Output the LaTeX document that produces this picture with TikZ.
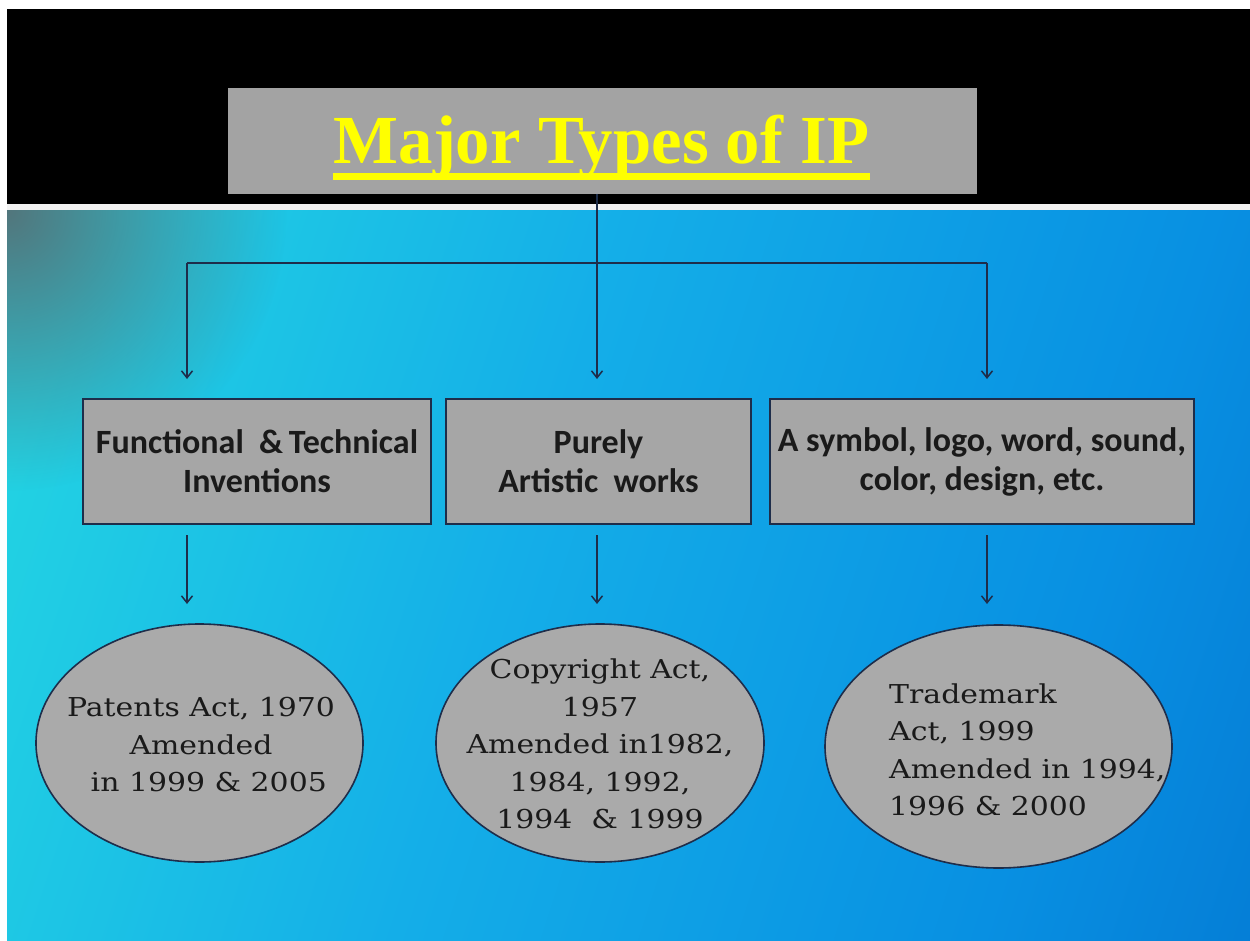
\documentclass[tikz,border=0pt]{standalone}
\usepackage{fontspec}
\usetikzlibrary{arrows.meta,shapes.geometric,fadings,calc}
\newfontfamily\boxfont{Carlito}
\newfontfamily\ellfont{DejaVu Serif}[FakeStretch=1.15]
\newfontfamily\ttlfont{Liberation Serif}
\definecolor{navy}{HTML}{1E2D4A}
\definecolor{boxgray}{HTML}{A6A6A6}
\definecolor{ellgray}{HTML}{AAAAAA}
\definecolor{ttlgray}{HTML}{A3A3A3}
\definecolor{ttlyellow}{HTML}{FFFF00}
\definecolor{txt}{HTML}{1A1A1A}
\definecolor{cornercol}{HTML}{52767C}
\definecolor{sA}{HTML}{26DAE2}
\definecolor{sB}{HTML}{22D2E3}
\definecolor{sC}{HTML}{14AEE8}
\definecolor{sD}{HTML}{0890E2}
\definecolor{sE}{HTML}{0062C4}
\pgfdeclarehorizontalshading{bgshade}{100bp}{color(0bp)=(sA); color(22bp)=(sB); color(45bp)=(sC); color(70bp)=(sD); color(100bp)=(sE)}
\tikzfading[name=cornerfade, inner color=transparent!0, outer color=transparent!100]
\tikzset{
  ibox/.style={draw=navy, line width=1.6pt, fill=boxgray, rectangle, inner sep=0pt,
    font=\boxfont\bfseries\fontsize{34}{39}\selectfont, text=txt, align=center},
  ell/.style={draw=navy, line width=1.6pt, fill=ellgray, ellipse, inner sep=0pt},
  elltxt/.style={font=\ellfont\fontsize{26}{37.5}\selectfont, text=txt, inner sep=0pt},
  conn/.style={draw=navy, line width=1.5pt},
  arr/.style={conn, -{Straight Barb[length=7pt,width=11pt,line width=1.5pt]}}
}
\begin{document}
\begin{tikzpicture}[x=1pt,y=-1pt]
\useasboundingbox (0,0) rectangle (1250,941);
\fill[white] (0,0) rectangle (1250,941);
% header band
\fill[black] (7,9) rectangle (1250,204);
\fill[white!90!gray] (7,204) rectangle (1250,211);
% gradient background
\shade[shading=bgshade, shading angle=-18] (7,211) rectangle (1250,941);
\begin{scope}
  \clip (7,211) rectangle (1250,941);
  \fill[cornercol, path fading=cornerfade] (7,211) circle (280);
\end{scope}
% title
\node[fill=ttlgray, minimum width=749, minimum height=106, inner sep=0pt] (tbox) at (602.5,141) {};
\node[font=\ttlfont\bfseries\fontsize{68.8}{68.8}\selectfont, text=ttlyellow, inner sep=0pt, anchor=base] (ttl) at (601.5,164) {Major Types of IP};
\fill[ttlyellow] ($(ttl.base west)+(0,9)$) rectangle ($(ttl.base east)+(0,16)$);
% boxes
\node[ibox, minimum width=348, minimum height=125] (b1) at (257,461.5) {Functional\ \ \&\,Technical\\Inventions};
\node[ibox, minimum width=305, minimum height=125] (b2) at (598.5,461.5) {Purely\\Artistic\ \ works};
\node[ibox, minimum width=424, minimum height=125] (b3) at (982,461.5) {A symbol, logo, word, sound,\\color, design, etc.};
% ellipses
\node[ell, minimum width=327, minimum height=238] (e1) at (199.5,743) {};
\node[ell, minimum width=328, minimum height=238] (e2) at (600,743) {};
\node[ell, minimum width=347, minimum height=243] (e3) at (998.5,746.5) {};
\node[elltxt, align=center] (t1) at (201,745) {Patents Act, 1970\\Amended\\\hspace*{0.6em}in 1999 \& 2005};
\node[elltxt, align=center] (t2) at (600,744) {Copyright Act,\\1957\\Amended in1982,\\1984, 1992,\\1994\ \ \& 1999};
\node[elltxt, align=left, anchor=west] (t3) at (889,750) {Trademark\\Act, 1999\\Amended in 1994,\\1996 \& 2000};
% connectors
\coordinate (top) at (597,194);
\coordinate (jl) at (187,263);
\coordinate (jr) at (987,263);
\coordinate (al) at (187,379);
\coordinate (am) at (597,379);
\coordinate (ar) at (987,379);
\coordinate (sl) at (187,535);
\coordinate (sm) at (597,535);
\coordinate (sr) at (987,535);
\coordinate (el) at (187,604);
\coordinate (em) at (597,604);
\coordinate (er) at (987,604);
\draw[conn] (jl) -- (jr);
\draw[arr] (top) -- (am);
\draw[arr] (jl) -- (al);
\draw[arr] (jr) -- (ar);
\draw[arr] (sl) -- (el);
\draw[arr] (sm) -- (em);
\draw[arr] (sr) -- (er);
\end{tikzpicture}
\end{document}
